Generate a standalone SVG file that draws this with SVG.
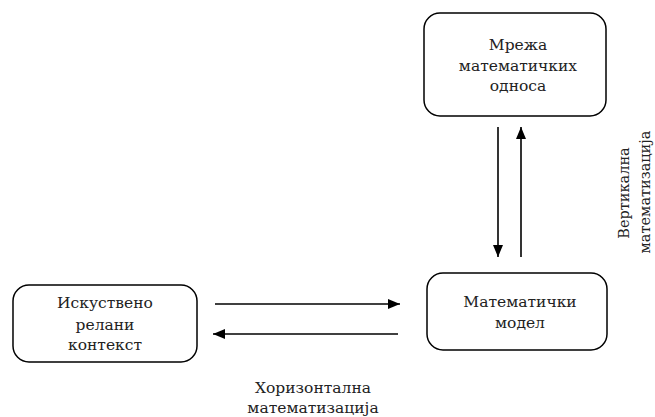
<svg xmlns="http://www.w3.org/2000/svg" width="655" height="417" viewBox="0 0 655 417">
<defs>
<marker id="ah" viewBox="0 0 12 10" refX="12" refY="5" markerWidth="12" markerHeight="10" markerUnits="userSpaceOnUse" orient="auto">
<path d="M0,0 L12,5 L0,10 Z" fill="#000"/>
</marker>
<style>
.box{fill:#fff;stroke:#000;stroke-width:1.5}
.t{font-family:'DejaVu Serif',serif;font-size:15.5px;fill:#222;text-anchor:middle}
.v{font-size:14.5px}
.c{stroke:#000;stroke-width:1.6;fill:none;marker-end:url(#ah)}
</style>
</defs>
<rect width="655" height="417" fill="#fff"/>
<g id="node-mreza">
<rect class="box" x="424" y="13" width="182" height="103" rx="16"/>
<text class="t" x="518" y="50">Мрежа</text>
<text class="t" x="518" y="71">математичких</text>
<text class="t" x="518" y="91">односа</text>
</g>
<g id="node-model">
<rect class="box" x="427" y="273" width="180" height="77" rx="16"/>
<text class="t" x="520" y="307">Математички</text>
<text class="t" x="520" y="328">модел</text>
</g>
<g id="node-kontekst">
<rect class="box" x="13" y="285" width="184" height="77" rx="16"/>
<text class="t" x="105" y="308">Искуствено</text>
<text class="t" x="105" y="330">релани</text>
<text class="t" x="105" y="350">контекст</text>
</g>
<g id="connectors">
<line class="c" x1="498" y1="127" x2="498" y2="257"/>
<line class="c" x1="521" y1="257" x2="521" y2="127"/>
<line class="c" x1="215" y1="304" x2="400" y2="304"/>
<line class="c" x1="398" y1="334" x2="213" y2="334"/>
</g>
<g id="labels">
<text class="t" x="313" y="393">Хоризонтална</text>
<text class="t" x="313" y="413">математизација</text>
<text class="t v" transform="translate(629,193) rotate(-90)">Вертикална</text>
<text class="t v" transform="translate(650,192) rotate(-90)">математизација</text>
</g>
</svg>
